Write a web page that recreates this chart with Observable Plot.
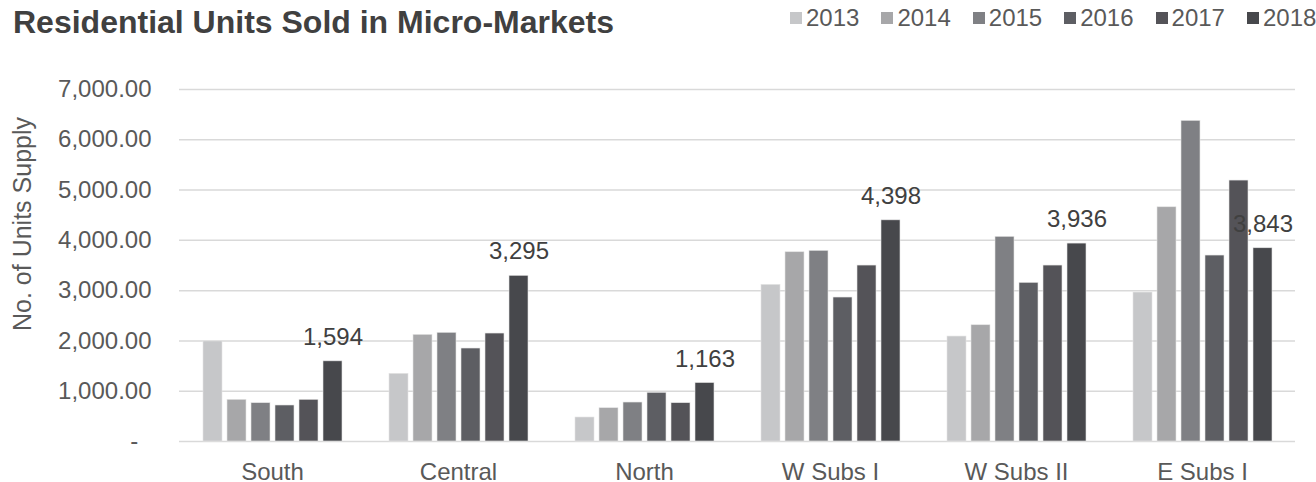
<!DOCTYPE html>
<html>
<head>
<meta charset="utf-8">
<script src="https://cdn.jsdelivr.net/npm/d3@7"></script>
<script src="https://cdn.jsdelivr.net/npm/@observablehq/plot@0.6"></script>
<style>
  html, body { margin: 0; padding: 0; background: #fff; }
  body { width: 1316px; height: 482px; overflow: hidden; font-family: "Liberation Sans", Arial, sans-serif; }
  #header { position: relative; width: 1316px; height: 50px; }
  #title { position: absolute; left: 13px; top: 4px; font-size: 32px; font-weight: bold; color: #404040; white-space: nowrap; line-height: 36px; }
  #legend { position: absolute; left: 790px; top: 4px; display: flex; align-items: center; height: 28px; }
  .item { display: flex; align-items: center; margin-right: 22px; font-size: 24px; color: #595959; }
  .item:last-child { margin-right: 0; }
  .sw { width: 12px; height: 12px; margin-right: 4px; }
  #chart { position: relative; }
  #ytitle { position: absolute; left: 22px; top: 174px; transform: translate(-50%, -50%) rotate(-90deg); font-size: 25px; color: #595959; white-space: nowrap; }
</style>
</head>
<body>
<div id="header"><div id="title">Residential Units Sold in Micro-Markets</div><div id="legend"></div></div>
<div id="chart"><div id="ytitle">No. of Units Supply</div></div>
<script>
const categories = ["South", "Central", "North", "W Subs I", "W Subs II", "E Subs I"];
const years = ["2013", "2014", "2015", "2016", "2017", "2018"];
const colors = ["#c6c7c9", "#a7a7a9", "#7f8084", "#5d5e63", "#545358", "#47484c"];
const v2013 = [1990, 1346, 477, 3115, 2087, 2962];
const v2014 = [829, 2121, 662, 3764, 2312, 4658];
const v2015 = [762, 2161, 775, 3791, 4070, 6376];
const v2016 = [716, 1849, 968, 2863, 3155, 3698];
const v2017 = [829, 2147, 762, 3499, 3499, 5189];
const v2018 = [1594, 3295, 1163, 4398, 3936, 3843];
const yTicks = [0, 1000, 2000, 3000, 4000, 5000, 6000, 7000];
const labelYear = "2018";

const series = [v2013, v2014, v2015, v2016, v2017, v2018];
const data = [];
categories.forEach((c, ci) => {
  years.forEach((yr, yi) => {
    data.push({cat: c, year: yr, value: series[yi][ci]});
  });
});

// legend
const legend = document.getElementById("legend");
years.forEach((yr, i) => {
  const it = document.createElement("div");
  it.className = "item";
  const sw = document.createElement("div");
  sw.className = "sw";
  sw.style.background = colors[i];
  it.appendChild(sw);
  it.appendChild(document.createTextNode(yr));
  legend.appendChild(it);
});

const fmt = d3.format(",.2f");
const chart = Plot.plot({
  width: 1316,
  height: 432,
  marginTop: 39,
  marginBottom: 41,
  marginLeft: 177,
  marginRight: 19,
  style: {fontFamily: "'Liberation Sans', Arial, sans-serif", color: "#595959", background: "#fff", overflow: "visible"},
  fx: {domain: categories, padding: 0},
  x: {domain: years, paddingInner: 0.22, paddingOuter: 0.845, axis: null},
  y: {domain: [0, 7000], axis: null},
  color: {domain: years, range: colors},
  marks: [
    Plot.ruleY(yTicks, {stroke: "#d9d9d9", strokeWidth: 1.5}),
    Plot.barY(data, {fx: "cat", x: "year", y: "value", fill: "year", stroke: "#e4e4e4", strokeWidth: 0.6}),
    Plot.text(data.filter(d => d.year === labelYear), {
      fx: "cat", x: "year", y: "value",
      text: d => d3.format(",")(d.value),
      dy: -24, fontSize: 24, fill: "#404040"
    }),
    Plot.axisY(yTicks, {
      tickSize: 0, tickPadding: 28, fontSize: 24, label: null,
      tickFormat: d => d === 0 ? "-\u00a0\u00a0" : fmt(d)
    }),
    Plot.axisFx({anchor: "bottom", tickSize: 0, tickPadding: 21, fontSize: 24, label: null})
  ]
});
document.getElementById("chart").appendChild(chart);
</script>
</body>
</html>
